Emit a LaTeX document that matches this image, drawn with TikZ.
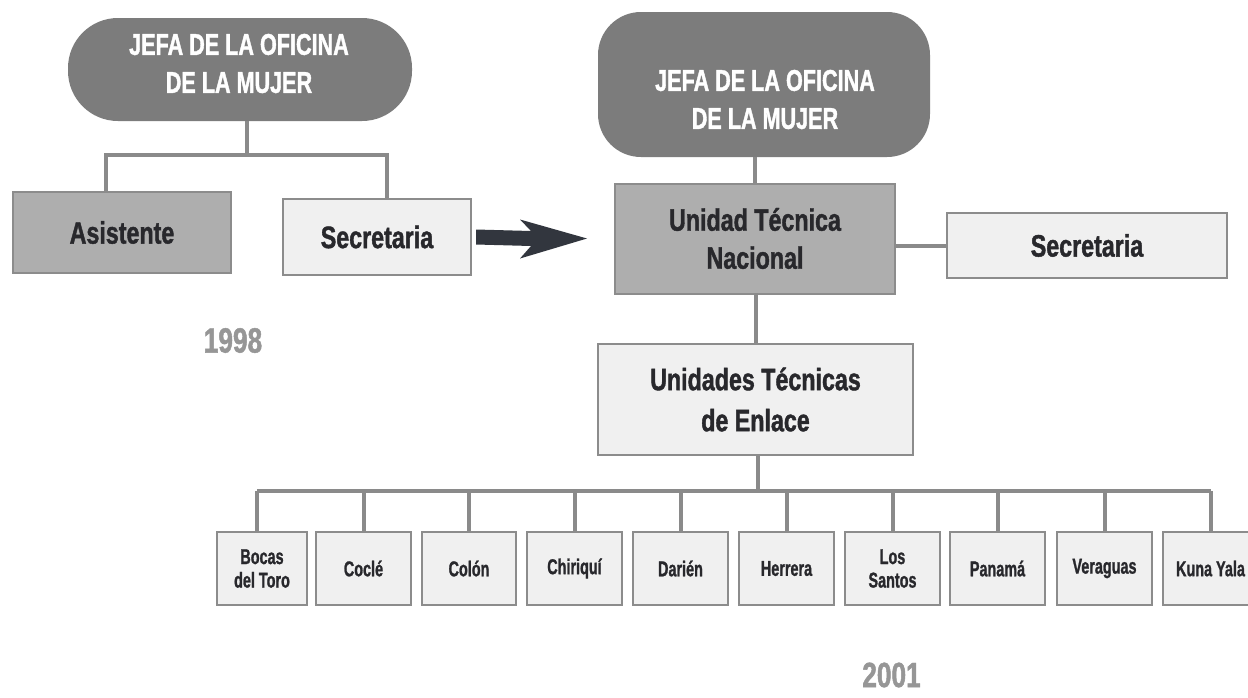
\documentclass[tikz,border=0pt]{standalone}
\usepackage{fontspec}
\usetikzlibrary{calc}
\newfontfamily\cf{Liberation Sans}[FakeStretch=0.75, BoldFeatures={FakeBold=1.3}]
\newfontfamily\cfc{Liberation Sans}[FakeStretch=0.72, BoldFeatures={FakeBold=1.3}]
\newfontfamily\cfs{Liberation Sans}[FakeStretch=0.67, BoldFeatures={FakeBold=1.1}]
\definecolor{pillgray}{RGB}{124,124,124}
\definecolor{midgray}{RGB}{174,174,174}
\definecolor{lightfill}{RGB}{240,240,240}
\definecolor{bordergray}{RGB}{140,140,140}
\definecolor{conngray}{RGB}{138,138,138}
\definecolor{txtdark}{RGB}{40,40,44}
\definecolor{arrowdark}{RGB}{50,54,62}
\definecolor{yeargray}{RGB}{150,150,150}
\tikzset{
  box/.style={draw=bordergray, line width=2pt, inner sep=0pt, align=center,
    text=txtdark, font=\cf\bfseries\fontsize{31}{38}\selectfont},
  darkbox/.style={box, fill=midgray},
  lightbox/.style={box, fill=lightfill},
  smallbox/.style={lightbox, minimum height=73, font=\cfs\bfseries\fontsize{21.5}{23.5}\selectfont},
  pill/.style={fill=pillgray, draw=none, inner sep=0pt},
  jefatext/.style={text=white, align=center, inner sep=0pt,
    font=\cfc\bfseries\fontsize{30}{38}\selectfont},
  conn/.style={draw=conngray, line width=4pt},
  yeartext/.style={text=yeargray, inner sep=0pt, font=\cf\bfseries\fontsize{35}{40}\selectfont}
}
\begin{document}
\begin{tikzpicture}[x=1pt,y=-1pt]
\useasboundingbox[fill=white] (0,0) rectangle (1248,697);

% ---- 1998 ----
\node[pill, minimum width=344, minimum height=103, rounded corners=50] (pillL) at (240,69.5) {};
\node[jefatext] (pillLt) at ($(pillL.center)+(-1,-6)$) {JEFA DE LA OFICINA\\DE LA MUJER};
\node[darkbox, minimum width=218, minimum height=81] (asis) at (122,232.5) {Asistente};
\node[lightbox, minimum width=188, minimum height=76] (secL) at (377,237) {Secretaria};
\coordinate (lbus) at (247,155);
\draw[conn] ([xshift=7]pillL.south) -- ([xshift=7]pillL.south |- lbus);
\draw[conn] ([xshift=-16]asis.north) |- (lbus) -| ([xshift=10]secL.north);
\node[yeartext] (y1998) at (233,340.5) {1998};

% ---- 2001 ----
\node[pill, minimum width=332, minimum height=145, rounded corners=43] (pillR) at (764,84.5) {};
\node[jefatext] (pillRt) at ($(pillR.center)+(1,15)$) {JEFA DE LA OFICINA\\DE LA MUJER};
\node[darkbox, minimum width=280, minimum height=110] (utn) at (755,238.5) {Unidad Técnica\\Nacional};
\node[lightbox, minimum width=280, minimum height=65] (secR) at (1087,245.5) {Secretaria};
\node[lightbox, minimum width=315, minimum height=111, font=\cf\bfseries\fontsize{31}{41}\selectfont] (ute) at (755.5,399.5) {Unidades Técnicas\\de Enlace};

% ---- arrow ----
\coordinate (a0) at ($(secL.east)+(4,0)$);
\coordinate (a1) at ($(utn.west)+(-27,0)$);
\fill[arrowdark] ($(a0)+(0,-7.5)$) -- ($(a1)+(-56,-7.5)$) -- ($(a1)+(-67,-19)$) -- (a1)
  -- ($(a1)+(-67,20)$) -- ($(a1)+(-56,7.5)$) -- ($(a0)+(0,7.5)$) -- cycle;

\draw[conn] (pillR.south -| utn.north) -- (utn.north);
\draw[conn] (utn.east |- secR.west) -- (secR.west);
\draw[conn] (utn.south) -- (utn.south -| ute.north) -- (ute.north);

\node[smallbox, minimum width=90] (bocas) at (262,568.5) {Bocas\\del Toro};
\node[smallbox, minimum width=95] (cocle) at (363.5,568.5) {Coclé};
\node[smallbox, minimum width=94] (colon) at (469,568.5) {Colón};
\node[smallbox, minimum width=95] (chiriqui) at (574.5,568.5) {Chiriquí};
\node[smallbox, minimum width=95] (darien) at (680.5,568.5) {Darién};
\node[smallbox, minimum width=95] (herrera) at (786.5,568.5) {Herrera};
\node[smallbox, minimum width=95] (santos) at (892.5,568.5) {Los\\Santos};
\node[smallbox, minimum width=95] (panama) at (997.5,568.5) {Panamá};
\node[smallbox, minimum width=95] (veraguas) at (1104.5,568.5) {Veraguas};
\node[smallbox, minimum width=95] (kuna) at (1210.5,568.5) {Kuna Yala};

\coordinate (bus) at (758,491);
\draw[conn] ([xshift=2]ute.south) -- ([xshift=2]ute.south |- bus);
\draw[conn] ([xshift=-5]bocas.north |- bus) -- (kuna.north |- bus);
\draw[conn] ([xshift=-5]bocas.north) -- ([xshift=-5]bocas.north |- bus);
\foreach \n in {cocle,colon,chiriqui,darien,herrera,santos,panama,veraguas,kuna}{
  \draw[conn] (\n.north) -- (\n.north |- bus);
}
\node[yeartext] (y2001) at (891.5,675) {2001};
\end{tikzpicture}
\end{document}
